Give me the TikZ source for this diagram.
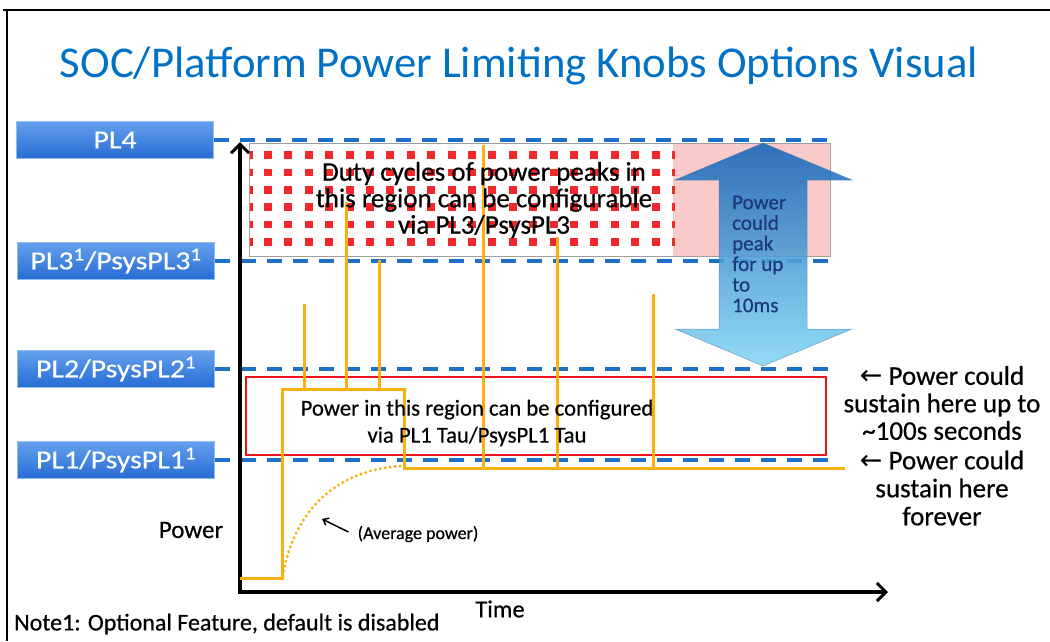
\documentclass[tikz,border=0pt]{standalone}
\usepackage{fontspec}
\setmainfont{Carlito}[FakeBold=0.5]
\newfontfamily\labelfont{Carlito}[FakeStretch=1.15, FakeBold=0.4]
\newfontfamily\headfont{Carlito}[FakeStretch=1.1]
\newfontfamily\symfont{DejaVu Sans}
\usetikzlibrary{arrows.meta}

\definecolor{titleblue}{RGB}{0,113,197}
\definecolor{dashblue}{RGB}{30,112,196}
\definecolor{boxtop}{RGB}{100,160,236}
\definecolor{boxbot}{RGB}{38,108,212}
\definecolor{peakline}{RGB}{252,176,16}
\definecolor{dotred}{RGB}{242,40,45}
\definecolor{pinkfill}{RGB}{248,202,202}
\definecolor{limred}{RGB}{236,18,24}
\definecolor{arrtop}{RGB}{20,100,184}
\definecolor{arrmid}{RGB}{90,172,228}
\definecolor{arrbot}{RGB}{132,214,244}
\definecolor{navytext}{RGB}{26,56,122}

\tikzset{
  plbox/.style={rectangle, minimum width=197pt, minimum height=37pt, inner sep=0pt,
    top color=boxtop, bottom color=boxbot, draw=boxtop!70!white, line width=0.6pt,
    text=white, font=\labelfont\fontsize{26}{26}\selectfont},
  limitline/.style={draw=dashblue, line width=4pt, dash pattern=on 15pt off 11pt},
  axisline/.style={line width=4pt, line join=miter,
    {Straight Barb[length=9pt,width=18pt,line width=3pt]}-{Straight Barb[length=9pt,width=18pt,line width=3pt]}},
  powerline/.style={draw=peakline, line width=3pt},
  avgline/.style={draw=peakline, line width=3.3pt, line cap=round, dash pattern=on 0pt off 5pt},
  bodytext/.style={align=center, inner sep=0pt, text=black},
}

\begin{document}
\begin{tikzpicture}[x=1pt, y=-1pt]
\useasboundingbox (0,0) rectangle (1050,641);

% page frame (top and left edges)
\draw[line width=2.6pt] (3,10) -- (1050,10);
\draw[line width=2.6pt] (7,10) -- (7,641);

% title
\node[text=titleblue, font=\headfont\fontsize{44}{44}\selectfont, inner sep=0pt] (title) at (519,66)
  {\resizebox{918pt}{\height}{SOC/Platform Power Limiting Knobs Options Visual}};

% PL3..PL4 band: dotted part and pink part
\fill[pinkfill] (673,143) rectangle (830,256);
\foreach \i in {0,...,19}
  \foreach \j in {0,...,5}
    \fill[dotred] ({268+20.4*\i-4},{155+17.4*\j-3.8}) rectangle ++(8,7.6);
\foreach \j in {0,...,5} {
  \fill[dotred] (250,{155+17.4*\j-3.8}) rectangle ++(2.6,7.6);
  \fill[dotred] (672,{155+17.4*\j-3.8}) rectangle ++(2.6,7.6);
}
\draw[gray!75, line width=0.9pt] (249,143) rectangle (830,256);

% limit labels
\node[plbox] (pl4) at (115,140) {PL4};
\node[plbox] (pl3) at (116,261) {PL3\textsuperscript{1}/PsysPL3\textsuperscript{1}};
\node[plbox] (pl2) at (116,369) {PL2/PsysPL2\textsuperscript{1}};
\node[plbox] (pl1) at (116,460) {PL1/PsysPL1\textsuperscript{1}};

% limit levels
\coordinate (pl4end) at (830,140);
\coordinate (pl3end) at (830,261);
\coordinate (pl2end) at (830,369);
\coordinate (pl1end) at (830,460);
\draw[limitline] (pl4.east) -- (pl4end);
\draw[limitline] (pl3.east) -- (pl3end);
\draw[limitline] (pl2.east) -- (pl2end);
\draw[limitline] (pl1.east) -- (pl1end);

% PL1..PL2 band
\draw[draw=limred, line width=2.6pt] (246,377) rectangle (826,455);

% peak duration arrow
\shade[top color=arrtop, middle color=arrmid, bottom color=arrbot, opacity=0.88]
  (763,143) -- (852,180) -- (807,180) -- (807,329) -- (852,329) -- (763,366)
  -- (675,329) -- (719,329) -- (719,180) -- (675,180) -- cycle;
\draw[draw=arrtop!60!gray, line width=0.5pt, opacity=0.6]
  (763,143) -- (852,180) -- (807,180) -- (807,329) -- (852,329) -- (763,366)
  -- (675,329) -- (719,329) -- (719,180) -- (675,180) -- cycle;
\node[anchor=west, align=left, text=navytext, inner sep=0pt,
  font=\fontsize{21}{20.6}\selectfont] (peaktxt) at (732,254)
  {Power\\could\\peak\\for up\\to\\10ms};

% axes
\coordinate (O) at (240,592);
\coordinate (ytop) at (240,142);
\coordinate (xend) at (888,592);
\draw[axisline] (ytop) -- (O) -- (xend);

% power trace
\draw[powerline, line join=miter] (240,578) -- (282,578) -- (282,389) -- (404,389)
  -- (404,468) -- (845,468);
\draw[powerline] (304,389) -- (304,304);
\draw[powerline] (346,389) -- (346,202);
\draw[powerline] (379,389) -- (379,260);
\draw[powerline] (483,468) -- (483,145);
\draw[powerline] (557,468) -- (557,237);
\draw[powerline] (653,468) -- (653,294);

% average power
\draw[avgline] (283,576) .. controls (292,518) and (330,470) .. (402,466);
\node[font=\fontsize{18}{18}\selectfont, inner sep=0pt] (avg) at (418,534) {(Average power)};
\coordinate (avgtip) at (322,519);
\draw[line width=1.5pt, -{Straight Barb[length=5pt,width=8pt]}] (avg.west) ++(-9,-2) -- (avgtip);

% band texts
\node[bodytext, font=\fontsize{27}{26.5}\selectfont] (dutytxt) at (484,200)
  {Duty cycles of power peaks in\\this region can be configurable\\via PL3/PsysPL3};
\node[bodytext, font=\fontsize{22.7}{27}\selectfont] (tautxt) at (477,423)
  {Power in this region can be configured\\via PL1 Tau/PsysPL1 Tau};

% right annotations
\node[bodytext, font=\fontsize{27}{27.5}\selectfont] (sustain1) at (942,403)
  {{\symfont ←} Power could\\sustain here up to\\\textasciitilde100s seconds};
\node[bodytext, font=\fontsize{27}{28}\selectfont] (sustain2) at (942,488)
  {{\symfont ←} Power could\\sustain here\\forever};

% axis labels and note
\node[font=\fontsize{25}{25}\selectfont, inner sep=0pt] (ylabel) at (191,530) {Power};
\node[font=\fontsize{24.5}{24.5}\selectfont, inner sep=0pt] (xlabel) at (500,609) {Time};
\node[anchor=west, font=\fontsize{24}{24}\selectfont, inner sep=0pt] (note) at (14,624)
  {Note1: Optional Feature, default is disabled};
\end{tikzpicture}
\end{document}
